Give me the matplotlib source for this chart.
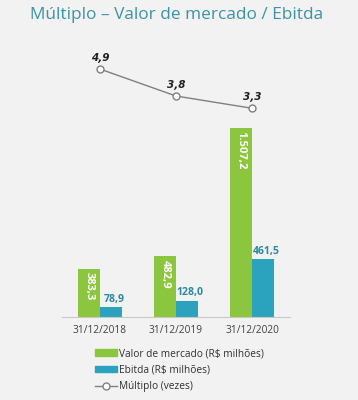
import matplotlib.pyplot as plt
from matplotlib.lines import Line2D
from matplotlib.patches import Patch

dates = ["31/12/2018", "31/12/2019", "31/12/2020"]
valor_mercado = [383.3, 482.9, 1507.2]
ebitda = [78.9, 128.0, 461.5]
multiplo = [4.9, 3.8, 3.3]

green = "#8cc63e"
teal = "#2ba3bf"
bg = "#f2f2f2"

def fmt(v):
    s = f"{v:,.1f}"
    return s.replace(",", "X").replace(".", ",").replace("X", ".")

plt.rcParams['font.family'] = ['Open Sans', 'DejaVu Sans']

fig = plt.figure(figsize=(3.58, 4.0), dpi=100, facecolor=bg)
# axes: x 62..290 px, y 60..317 px (from top)
ax = fig.add_axes([62/358, (400-317)/400, 228/358, 257/400])
ax.set_facecolor(bg)

x = list(range(len(dates)))
w = 0.29
ax.bar([i - w/2 for i in x], valor_mercado, width=w, color=green, zorder=2)
ax.bar([i + w/2 for i in x], ebitda, width=w, color=teal, zorder=2)

for i, v in enumerate(valor_mercado):
    ax.text(i - w/2, v - 25, fmt(v), rotation=-90, ha='center', va='top',
            color='white', fontsize=8, fontweight='bold')
for i, v in enumerate(ebitda):
    ax.text(i + w/2 + 0.04, v + 20, fmt(v), ha='center', va='bottom',
            color='#2a8aa3', fontsize=7.6, fontweight='bold')

ax.set_xlim(-0.5, 2.5)
ax.set_ylim(0, 2049)
ax.set_yticks([])
ax.set_xticks(x)
ax.set_xticklabels(dates, fontsize=7.3, color='#404040')
ax.tick_params(axis='x', length=0, pad=6)
for s in ['top', 'left', 'right']:
    ax.spines[s].set_visible(False)
ax.spines['bottom'].set_color('#c8c8c8')

ax2 = ax.twinx()
ax2.plot(x, multiplo, color='#808080', linewidth=1, marker='o', markersize=5,
         markerfacecolor='white', markeredgecolor='#808080', zorder=3)
for i, v in enumerate(multiplo):
    ax2.text(i, v + 0.25, fmt(v), ha='center', va='bottom', fontsize=7.5,
             style='italic', fontweight='bold', color='#202020',
             family='DejaVu Sans')
ax2.set_ylim(-5.22, 5.27)
ax2.axis('off')

fig.text(30/358, 1 - 15/400, "Múltiplo – Valor de mercado / Ebitda", fontsize=12.4,
         color='#3d93a6', ha='left', va='center')

handles = [Patch(color=green), Patch(color=teal),
           Line2D([], [], color='#808080', marker='o', markersize=5,
                  markerfacecolor='white', linewidth=1)]
labels = ["Valor de mercado (R$ milhões)", "Ebitda (R$ milhões)", "Múltiplo (vezes)"]
fig.legend(handles, labels, loc='upper left', bbox_to_anchor=(86/358, 1 - 339/400),
           frameon=False, fontsize=7.3, labelcolor='#303030', handlelength=2.2,
           handleheight=0.6, handletextpad=0.2, labelspacing=0.55)

fig.savefig("out.png", dpi=100, facecolor=bg)
